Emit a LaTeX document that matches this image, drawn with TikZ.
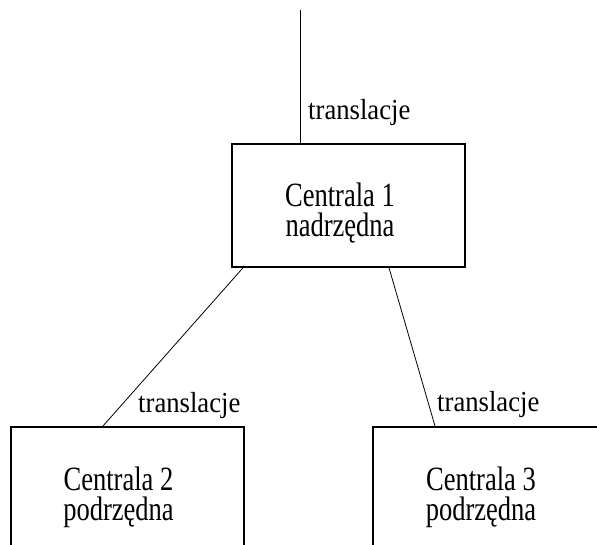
\documentclass[tikz,border=0pt]{standalone}
\usepackage{fontspec}
\setmainfont{Liberation Serif}
\newfontfamily\boxfont{Liberation Serif}[FakeStretch=0.78]
\newfontfamily\labfont{Liberation Serif}[FakeStretch=0.92]
\usetikzlibrary{calc}
\begin{document}
\begin{tikzpicture}[x=1pt,y=-1pt,
  box/.style={draw, line width=1.8pt, minimum width=233pt, minimum height=123pt, inner sep=0pt, anchor=north west},
  conn/.style={draw, line width=0.8pt},
  btext/.style={align=center, inner sep=0pt, anchor=base, font=\boxfont\fontsize{34}{30}\selectfont},
  lab/.style={inner sep=0pt, anchor=base west, font=\labfont\fontsize{29}{33}\selectfont}]
\fill[white] (0,0) rectangle (597,545);
\useasboundingbox (0,0) rectangle (597,545);
\clip (0,0) rectangle (597,545);
% boxes
\node[box] (c1) at (231,143) {};
\node[box] (c2) at (10,426) {};
\node[box] (c3) at (372,426) {};
% box texts (anchor base = last line)
\node[btext] (t1) at (340,237) {Centrala 1\\nadrzędna};
\node[btext] (t2) at (118.5,520) {Centrala 2\\podrzędna};
\node[btext] (t3) at (481,520) {Centrala 3\\podrzędna};
% connectors
\coordinate (top) at (300,10);
\draw[conn] (top) -- (top |- c1.north);
\draw[conn] ($(c1.south west)+(12,0)$) -- ($(c2.north west)+(93,0)$);
\draw[conn] ($(c1.south west)+(158,0)$) -- ($(c3.north west)+(63,0)$);
% labels
\node[lab] (l1) at (308,120) {translacje};
\node[lab] (l2) at (138,412) {translacje};
\node[lab] (l3) at (437,411) {translacje};
\end{tikzpicture}
\end{document}
